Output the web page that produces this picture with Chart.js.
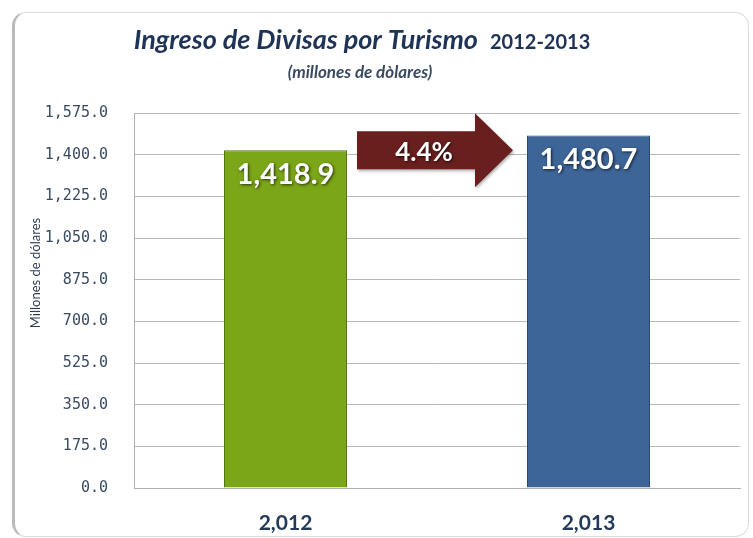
<!DOCTYPE html>
<html>
<head>
<meta charset="utf-8">
<script src="https://cdn.jsdelivr.net/npm/chart.js@4"></script>
<style>
  html, body { margin: 0; padding: 0; background: #fff; }
  #wrap { position: relative; width: 753px; height: 538px; overflow: hidden; }
  #frame {
    position: absolute; left: 12px; top: 12px; width: 733px; height: 523px;
    border: 1px solid #dcdcdc; border-left: 3px solid #b9b9b9; border-radius: 14px;
  }
  canvas { position: absolute; left: 0; top: 0; }
</style>
</head>
<body>
<div id="wrap">
  <div id="frame"></div>
  <canvas id="c" width="753" height="538"></canvas>
</div>
<script>
// --- datos ---
var years = ['2,012', '2,013'];
var ingresos = [1418.9, 1480.7];
var variacion = '4.4%';
var yTicks = [0, 175, 350, 525, 700, 875, 1050, 1225, 1400, 1575];

var navy = '#1f3356';

function fmt1(v) {
  return v.toLocaleString('en-US', { minimumFractionDigits: 1, maximumFractionDigits: 1 });
}

/* ---------- titulo + titulo del eje ---------- */
var titlePlugin = {
  id: 'titulo',
  afterDraw: function (chart) {
    var ctx = chart.ctx;
    ctx.save();
    ctx.fillStyle = navy;
    ctx.textBaseline = 'alphabetic';
    var f1 = 'italic bold 27px Lato, "Open Sans", sans-serif';
    var f2 = 'bold 20px Lato, "Open Sans", sans-serif';
    var t1 = 'Ingreso de Divisas por Turismo', t2 = '2012-2013';
    ctx.font = f1; var w1 = ctx.measureText(t1).width;
    ctx.font = f2; var w2 = ctx.measureText(t2).width;
    var gap = 12, x0 = 362 - (w1 + gap + w2) / 2;
    ctx.font = f1; ctx.textAlign = 'left'; ctx.fillText(t1, x0, 49);
    ctx.font = f2; ctx.fillText(t2, x0 + w1 + gap, 49);
    ctx.fillStyle = '#3a4a63';
    ctx.font = 'italic bold 17px Lato, "Open Sans", sans-serif';
    ctx.textAlign = 'center';
    ctx.fillText('(millones de dòlares)', 360, 78);

    // titulo eje Y
    ctx.translate(36, 273);
    ctx.rotate(-Math.PI / 2);
    ctx.fillStyle = '#2e3d55';
    ctx.font = '13px Lato, "Open Sans", sans-serif';
    ctx.textBaseline = 'middle';
    ctx.fillText('Millones de dólares', 0, 0);
    ctx.restore();
  }
};

/* ---------- flecha + etiquetas ---------- */
var labelPlugin = {
  id: 'etiquetas',
  afterDatasetsDraw: function (chart) {
    var ctx = chart.ctx;
    var meta = chart.getDatasetMeta(0);
    var b0 = meta.data[0], b1 = meta.data[1];
    ctx.save();

    // flecha
    var xs = b0.x + b0.width / 2 + 10, xe = b1.x - b1.width / 2 - 14;
    var yc = chart.scales.y.getPixelForValue(ingresos[0]);
    var xh = xe - 38;
    ctx.beginPath();
    ctx.moveTo(xs, yc - 19);
    ctx.lineTo(xh, yc - 19);
    ctx.lineTo(xh, yc - 37);
    ctx.lineTo(xe, yc);
    ctx.lineTo(xh, yc + 37);
    ctx.lineTo(xh, yc + 19);
    ctx.lineTo(xs, yc + 19);
    ctx.closePath();
    ctx.fillStyle = '#6a1f1f';
    ctx.shadowColor = 'rgba(0,0,0,0.3)';
    ctx.shadowBlur = 3; ctx.shadowOffsetX = 1; ctx.shadowOffsetY = 2;
    ctx.fill();

    ctx.fillStyle = '#fff';
    ctx.shadowColor = 'rgba(0,0,0,0.7)';
    ctx.shadowBlur = 3; ctx.shadowOffsetX = 1; ctx.shadowOffsetY = 1;
    ctx.textAlign = 'center';
    ctx.textBaseline = 'middle';
    ctx.font = 'bold 26px Lato, "Open Sans", sans-serif';
    ctx.fillText(variacion, (xs + xh) / 2 + 8, yc + 2);

    // valores
    ctx.font = 'bold 29px Lato, "Open Sans", sans-serif';
    meta.data.forEach(function (bar, i) {
      ctx.fillText(fmt1(ingresos[i]), bar.x, bar.y + 24);
    });
    ctx.restore();
  }
};

function barFill(ctx, base, dark) {
  var ca = ctx.chart.chartArea;
  var el = ctx.element;
  if (!ca || !el || !el.width) return base;
  var g = ctx.chart.ctx.createLinearGradient(el.x - el.width / 2, 0, el.x + el.width / 2, 0);
  g.addColorStop(0, dark);
  g.addColorStop(0.06, base);
  g.addColorStop(0.94, base);
  g.addColorStop(1, dark);
  return g;
}

new Chart(document.getElementById('c'), {
  type: 'bar',
  data: {
    labels: years,
    datasets: [{
      data: ingresos,
      backgroundColor: function (ctx) {
        return ctx.dataIndex === 0 ? barFill(ctx, '#7ba617', '#56760f') : barFill(ctx, '#3d6598', '#2a4870');
      },
      borderColor: ['#55730f', '#2b4a73'],
      borderWidth: 1,
      barPercentage: 0.406,
      categoryPercentage: 1
    }]
  },
  options: {
    responsive: false,
    animation: false,
    events: [],
    layout: { padding: { top: 113, right: 13, left: 0, bottom: 0 } },
    plugins: { legend: { display: false }, tooltip: { enabled: false } },
    scales: {
      x: {
        grid: { display: false },
        border: { display: true, color: '#b0b0b0' },
        ticks: {
          color: '#243a5a',
          padding: 15,
          font: { family: 'Lato, "Open Sans", sans-serif', size: 21, weight: 'bold' }
        },
        afterFit: function (s) { s.height = 50; }
      },
      y: {
        min: 0, max: 1575,
        afterBuildTicks: function (s) { s.ticks = yTicks.map(function (v) { return { value: v }; }); },
        grid: { color: '#b8b8b8', drawTicks: false },
        border: { display: true, color: '#b0b0b0' },
        ticks: {
          color: '#3b4a63',
          padding: 26,
          font: { family: '"DejaVu Sans Mono", monospace', size: 15 },
          callback: function (v) { return fmt1(v); }
        },
        afterFit: function (s) { s.width = 134; }
      }
    }
  },
  plugins: [titlePlugin, labelPlugin]
});
</script>
</body>
</html>
